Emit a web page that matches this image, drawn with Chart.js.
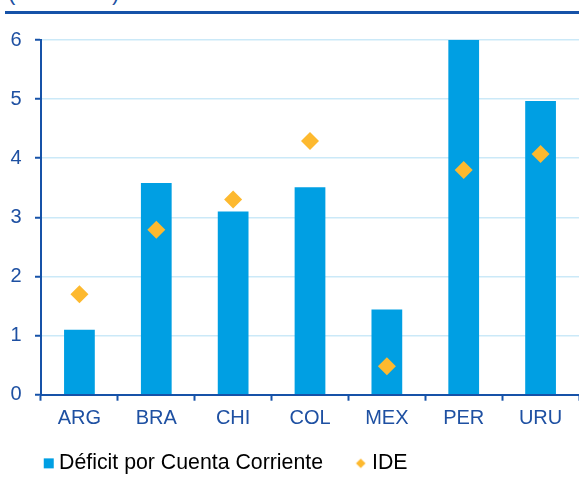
<!DOCTYPE html>
<html>
<head>
<meta charset="utf-8">
<script src="https://cdn.jsdelivr.net/npm/chart.js@4"></script>
<style>
    body { margin: 0; background: #fff; }
    #wrap { position: relative; width: 579px; height: 478px; overflow: hidden; }
    #titulo {
        position: absolute; left: 8px; top: -18px;
        font: 22px/22px "Liberation Sans", Arial, sans-serif; color: #1E50A2;
    }
    #linea { position: absolute; left: 5px; right: 0; top: 11px; border-top: 3px solid #1652A8; }
    #box { position: absolute; left: 0; top: 0; width: 579px; height: 478px; }
</style>
</head>
<body>
<div id="wrap">
    <div id="titulo">(% del PIB)</div>
    <div id="linea"></div>
    <div id="box"><canvas id="chart1"></canvas></div>
</div>
<script>
const paises = ['ARG', 'BRA', 'CHI', 'COL', 'MEX', 'PER', 'URU'];
const deficitCC = [1.1, 3.58, 3.1, 3.51, 1.44, 6.0, 4.97];
const ide = [1.7, 2.79, 3.3, 4.29, 0.48, 3.8, 4.07];
const ticksY = [0, 1, 2, 3, 4, 5, 6];

const azul = '#009FE3';
const naranja = '#FDB92F';
const texto = '#1E50A2';
const eje = '#1652A8';

// iconos de la leyenda (la marca va a la derecha del lienzo)
function icono(dibujar) {
    const c = document.createElement('canvas');
    c.width = 48; c.height = 14;
    dibujar(c.getContext('2d'));
    return c;
}
const iconoBarra = icono(ctx => {
    ctx.fillStyle = azul;
    ctx.fillRect(37, 2, 10, 10);
});
const iconoIde = icono(ctx => {
    ctx.fillStyle = naranja;
    ctx.beginPath();
    ctx.moveTo(41, 2.2); ctx.lineTo(45.8, 7); ctx.lineTo(41, 11.8); ctx.lineTo(36.2, 7);
    ctx.closePath();
    ctx.fill();
});

Chart.defaults.font.family = '"Liberation Sans", Arial, sans-serif';
Chart.defaults.color = texto;

new Chart(document.getElementById('chart1').getContext('2d'), {
    type: 'bar',
    data: {
        labels: paises,
        datasets: [{
            type: 'line',
            label: 'IDE',
            data: ide,
            showLine: false,
            pointStyle: 'rectRot',
            pointRadius: 9,
            pointHoverRadius: 9,
            pointBorderWidth: 0,
            backgroundColor: naranja,
            borderColor: naranja,
            order: 0
        }, {
            label: 'Déficit por Cuenta Corriente',
            data: deficitCC,
            backgroundColor: azul,
            barPercentage: 0.4,
            categoryPercentage: 1,
            order: 1
        }]
    },
    options: {
        responsive: true,
        maintainAspectRatio: false,
        animation: false,
        layout: { autoPadding: false, padding: { left: 10, top: 40, right: 0, bottom: -6 } },
        plugins: {
            tooltip: { enabled: false },
            legend: {
                position: 'bottom',
                align: 'start',
                reverse: true,
                labels: {
                    usePointStyle: true,
                    pointStyleWidth: 35.4,
                    padding: 3,
                    color: texto,
                    font: { size: 21.3 },
                    generateLabels: chart => chart.data.datasets.map((ds, i) => ({
                        text: ds.label,
                        pointStyle: i === 0 ? iconoIde : iconoBarra,
                        fillStyle: ds.backgroundColor,
                        strokeStyle: ds.backgroundColor,
                        lineWidth: 0,
                        datasetIndex: i
                    }))
                }
            }
        },
        scales: {
            x: {
                offset: true,
                grid: {
                    offset: true,
                    drawOnChartArea: false,
                    tickLength: 6,
                    tickColor: eje,
                    tickWidth: 2
                },
                border: { color: eje, width: 2 },
                ticks: { padding: 5.5, color: texto, font: { size: 20 } },
                afterFit: s => { s.height = 55; s.paddingLeft = 0; s.paddingRight = 0; }
            },
            y: {
                min: 0,
                max: 6,
                afterBuildTicks: s => { s.ticks = ticksY.map(v => ({ value: v })); },
                grid: {
                    color: '#CBE9F8',
                    lineWidth: 1.5,
                    tickLength: 6,
                    tickColor: eje,
                    tickWidth: 2
                },
                border: { color: eje, width: 2 },
                ticks: { padding: 13.5, color: texto, font: { size: 20 } },
                afterFit: s => { s.width = 31; }
            }
        }
    }
});
</script>
</body>
</html>
